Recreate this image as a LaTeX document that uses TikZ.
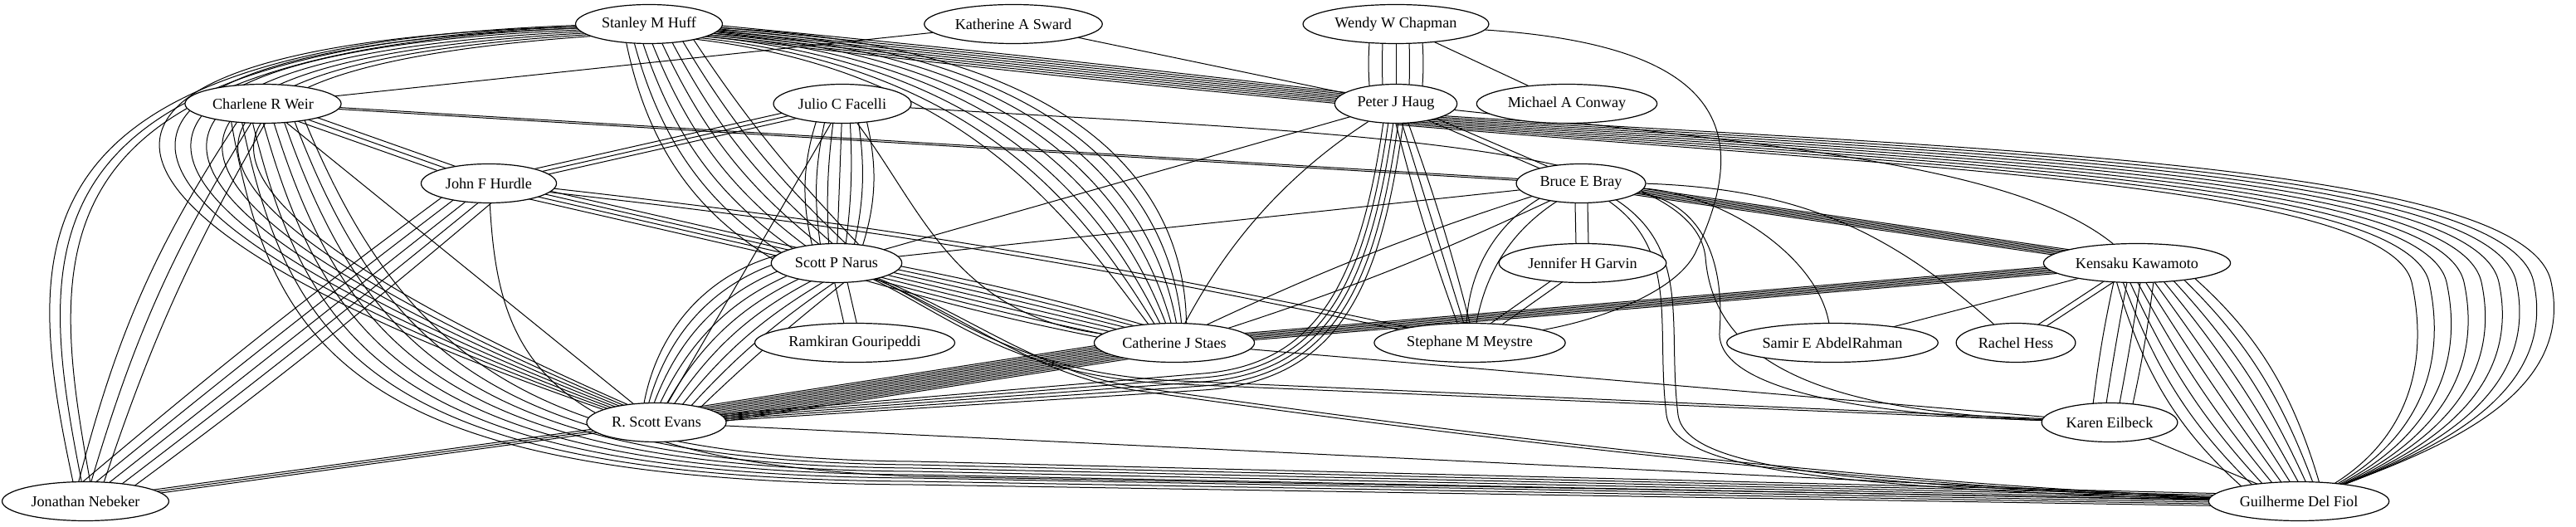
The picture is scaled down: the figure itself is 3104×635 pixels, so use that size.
\documentclass[tikz,border=0pt]{standalone}
\usepackage{fontspec}
\setmainfont{Liberation Serif}
\usetikzlibrary{calc,shapes.geometric}
\pgfdeclarelayer{bg}
\pgfsetlayers{bg,main}
\tikzset{
  person/.style={ellipse,draw,fill=white,line width=0.6pt,inner xsep=2.8pt,inner ysep=0pt,
    minimum height=23.5pt,font=\fontsize{9.1}{10}\selectfont},
  edge/.style={line width=0.5pt},
}
% bundle of parallel edges: from, to, count, separation (px), bend, fan
\newcommand\bund[6]{%
  \foreach \k in {1,...,#3}{%
    \pgfmathsetmacro\myT{\k-(#3+1)/2}%
    \pgfmathsetmacro\myO{\myT*#4*0.5}%
    \pgfmathsetmacro\myB{#5+\myT*#6}%
    \draw[edge] ($(#1)!\myO pt!90:(#2)$) to[bend left=\myB] ($(#2)!\myO pt!-90:(#1)$);
  }}
\begin{document}
\begin{tikzpicture}[x=0.5pt,y=-0.5pt]
\useasboundingbox (0,0) rectangle (3104,635);
% nodes
\node[person] (SH)  at (782,29)   {Stanley M Huff};
\node[person] (KAS) at (1221,29)  {Katherine A Sward};
\node[person] (WWC) at (1682,29)  {Wendy W Chapman};
\node[person] (PJH) at (1682,125) {Peter J Haug};
\node[person] (MAC) at (1888,125) {Michael A Conway};
\node[person] (CW)  at (317,125)  {Charlene R Weir};
\node[person] (JCF) at (1015,125) {Julio C Facelli};
\node[person] (JFH) at (589,221)  {John F Hurdle};
\node[person] (BEB) at (1905,221) {Bruce E Bray};
\node[person] (SPN) at (1008,317) {Scott P Narus};
\node[person] (JHG) at (1907,317) {Jennifer H Garvin};
\node[person] (KK)  at (2575,317) {Kensaku Kawamoto};
\node[person] (RG)  at (1030,413) {Ramkiran Gouripeddi};
\node[person] (CJS) at (1415,413) {Catherine J Staes};
\node[person] (SMM) at (1771,413) {Stephane M Meystre};
\node[person] (SEA) at (2208,413) {Samir E AbdelRahman};
\node[person] (RH)  at (2429,413) {Rachel Hess};
\node[person] (RSE) at (791,509)  {R. Scott Evans};
\node[person] (KE)  at (2542,509) {Karen Eilbeck};
\node[person] (JN)  at (103,604)  {Jonathan Nebeker};
\node[person] (GDF) at (2770,604) {Guilherme Del Fiol};

\begin{pgfonlayer}{bg}
% straight / bent bundles
\bund{SH}{PJH}{8}{1.8}{0}{0.2}
\bund{SH}{SPN}{8}{10}{-16}{3}
\bund{CW}{KAS}{1}{0}{0}{0}
\bund{KAS}{PJH}{1}{0}{0}{0}
\bund{CW}{BEB}{2}{2}{0}{0}
\bund{CW}{JFH}{3}{6}{0}{0}
\bund{CW}{RSE}{1}{0}{0}{0}
\bund{CW}{JN}{3}{14}{-8}{2}
\bund{JFH}{JN}{5}{10}{0}{1}
\bund{JFH}{JCF}{3}{5}{0}{0}
\bund{JFH}{SPN}{4}{5}{0}{0}
\bund{JFH}{SMM}{2}{5}{3}{0}
\bund{JCF}{SPN}{7}{8}{0}{6}
\bund{JCF}{RSE}{1}{0}{0}{0}
\bund{WWC}{PJH}{5}{15}{0}{3}
\bund{WWC}{MAC}{1}{0}{0}{0}
\bund{PJH}{BEB}{2}{6}{0}{0}
\bund{PJH}{SPN}{1}{0}{0}{0}
\bund{PJH}{SMM}{3}{6}{0}{3}
\bund{BEB}{JHG}{2}{15}{0}{0}
\bund{JHG}{SMM}{2}{9}{0}{0}
\bund{BEB}{KK}{6}{1.8}{0}{0}
\bund{BEB}{CJS}{2}{6}{0}{8}
\bund{BEB}{SMM}{2}{10}{-33}{8}
\bund{BEB}{SPN}{1}{0}{0}{0}
\bund{SPN}{RSE}{9}{6}{-21}{4.5}
\bund{SPN}{RG}{2}{15}{0}{0}
\bund{SPN}{CJS}{7}{3.5}{0}{1}
\bund{CJS}{RSE}{12}{2}{0}{0}
\bund{CJS}{KK}{6}{1.8}{0}{0}
\bund{CJS}{KE}{1}{0}{0}{0}
\bund{RSE}{GDF}{1}{0}{0}{0}
\bund{RSE}{JN}{3}{2.5}{0}{0}
\bund{KK}{SEA}{1}{0}{0}{0}
\bund{KK}{RH}{2}{7}{0}{0}
\bund{KK}{KE}{4}{15}{0}{2}
\bund{KK}{GDF}{10}{7}{0}{4}
\bund{KE}{GDF}{1}{0}{0}{0}
% routed bundles
\foreach \t in {-3.5,-2.5,...,3.5}{
  \draw[edge] ($(SH)+(0,{8-1.5*(\t)})$) .. controls ({1230+15*(\t)},{50-5*(\t)}) and ({1370+20*(\t)},{250-10*(\t)}) .. ($(CJS)+({4*(\t)},0)$);
}
\foreach \t in {-3,...,3}{
  \draw[edge] ($(SH)+(0,{6-1.5*(\t)})$) .. controls ({40-25*(\t)},{55-6*(\t)}) and ({100-25*(\t)},{250+4*(\t)}) .. ($(RSE)+({-1.5*(\t)},{1.5*(\t)})$);
}
\foreach \t in {-1,0,1}{
  \draw[edge] ($(SH)+(0,{1-1.5*(\t)})$) .. controls ({0-15*(\t)},{40-3*(\t)}) and ({40-15*(\t)},290) .. ($(JN)+({-10*(\t)},0)$);
}
\foreach \t in {-3.5,-2.5,...,3.5}{
  \draw[edge] ($(CW)+({12*(\t)},0)$) .. controls ({400+22*(\t)},420) and ({520+30*(\t)},{566-4*(\t)}) .. (1100,{570-4*(\t)}) -- ($(GDF)+(0,{-2*(\t)})$);
}
\draw[edge] (JFH) .. controls (600,430) and (650,556) .. (1100,574) -- (GDF);
\foreach \t in {-4,...,4}{
  \draw[edge] ($(PJH)+(0,{18-1.8*(\t)})$) .. controls (2300,{190-3*(\t)}) and ({2960+21*(\t)},{205-4*(\t)}) .. ({2990+21*(\t)},340) .. controls ({3020+21*(\t)},480) and ({2900+8*(\t)},{560-4*(\t)}) .. ($(GDF)+({8*(\t)},{-3*(\t)})$);
}
\draw[edge] (PJH) .. controls (2150,175) and (2430,200) .. (KK);
\foreach \t in {-2,...,2}{
  \draw[edge] ($(PJH)+({6*(\t)},0)$) .. controls ({1655+6*(\t)},330) and ({1610+8*(\t)},{448+5*(\t)}) .. (1450,{460+5*(\t)}) -- ($(RSE)+(0,{1.5*(\t)})$);
}
\draw[edge] (PJH) .. controls (1520,230) and (1460,330) .. (CJS);
\foreach \t in {-0.5,0.5}{
  \draw[edge] ($(SPN)+({4*(\t)},0)$) .. controls ({1130+6*(\t)},360) and ({1200+6*(\t)},{452-4*(\t)}) .. (1421,{461-4*(\t)}) -- ($(KE)+(0,{-2*(\t)})$);
  \draw[edge] ($(SPN)+({4*(\t)},0)$) .. controls ({1160+6*(\t)},370) and ({1240+6*(\t)},{452-4*(\t)}) .. (1380,{470-4*(\t)}) .. controls (1800,{530-4*(\t)}) and (2300,{590-2*(\t)}) .. ($(GDF)+(0,{-2*(\t)})$);
  \draw[edge] ($(BEB)+({10*(\t)},0)$) .. controls ({2040+14*(\t)},280) and ({2000+14*(\t)},380) .. ({2015+14*(\t)},500) .. controls ({2025+14*(\t)},{565-4*(\t)}) and (2200,{588-3*(\t)}) .. ($(GDF)+(0,{-2*(\t)})$);
}
\draw[edge] (JCF) .. controls (1600,160) and (2040,170) .. (2055,310) .. controls (2065,440) and (2200,495) .. (KE);
\draw[edge] (JCF) .. controls (1110,250) and (1150,380) .. (CJS);
\draw[edge] (BEB) .. controls (2055,245) and (2078,320) .. (2072,400) .. controls (2068,470) and (2250,500) .. (KE);
\draw[edge] (BEB) .. controls (2080,235) and (2190,310) .. (SEA);
\draw[edge] (BEB) to[bend left=20] (RH);
\draw[edge] (WWC) .. controls (2080,55) and (2110,160) .. (2045,300) .. controls (2025,350) and (1930,385) .. (SMM);
\end{pgfonlayer}
\end{tikzpicture}
\end{document}
